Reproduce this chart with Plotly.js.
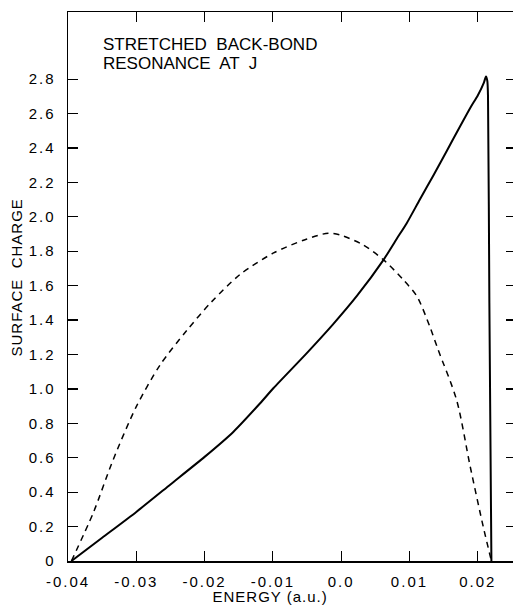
<!DOCTYPE html>
<html>
<head>
<meta charset="utf-8">
<script src="https://cdn.plot.ly/plotly-3.0.1.min.js"></script>
<style>
html,body{margin:0;padding:0;background:#fff;overflow:hidden;}
.xtick text, .ytick text { letter-spacing: 2px; }
g.annotation[data-index="2"] text, g.annotation[data-index="3"] text { letter-spacing: 1px; }
</style>
</head>
<body>
<div id="chart"></div>
<script>
// Solid curve: surface charge vs energy
const solidEnergy = [-0.0395, -0.0350, -0.0300, -0.0250, -0.0200, -0.0158, -0.0119, -0.0099, -0.0051, -0.0012, 0.0023, 0.0062, 0.0081, 0.0096, 0.0115, 0.0135, 0.0155, 0.0174, 0.0190, 0.0200, 0.0209, 0.0212, 0.0214, 0.02150, 0.0217, 0.0220];
const solidCharge = [0, 0.135, 0.285, 0.445, 0.605, 0.750, 0.915, 1.005, 1.205, 1.375, 1.540, 1.750, 1.870, 1.963, 2.099, 2.240, 2.385, 2.525, 2.640, 2.705, 2.780, 2.815, 2.790, 2.700, 1.500, 0];
// Dashed curve
const dashEnergy = [-0.0395, -0.0363, -0.0334, -0.0300, -0.0265, -0.0226, -0.0190, -0.0148, -0.0099, -0.0051, -0.0019, -0.0002, 0.0032, 0.0062, 0.0091, 0.0111, 0.0130, 0.0142, 0.0169, 0.0189, 0.0208, 0.0220];
const dashCharge = [0, 0.280, 0.587, 0.897, 1.140, 1.340, 1.505, 1.665, 1.790, 1.870, 1.905, 1.895, 1.837, 1.750, 1.634, 1.537, 1.360, 1.227, 0.936, 0.548, 0.200, 0];
// Tick labels
const xTickVals = [-0.04, -0.03, -0.02, -0.01, 0, 0.01, 0.02];
const xTickText = ["-0.04", "-0.03", "-0.02", "-0.01", "0.0", "0.01", "0.02"];
const yTickVals = [0, 0.2, 0.4, 0.6, 0.8, 1.0, 1.2, 1.4, 1.6, 1.8, 2.0, 2.2, 2.4, 2.6, 2.8];
const yTickText = ["0", "0.2", "0.4", "0.6", "0.8", "1.0", "1.2", "1.4", "1.6", "1.8", "2.0", "2.2", "2.4", "2.6", "2.8"];

const FONT = "Liberation Sans, Arial, sans-serif";

const traces = [
  {x: solidEnergy, y: solidCharge, mode: 'lines', line: {color: '#000', width: 2, shape: 'spline', smoothing: 0.6}, hoverinfo: 'skip'},
  {x: dashEnergy, y: dashCharge, mode: 'lines', line: {color: '#000', width: 1.5, dash: '6px,5px', shape: 'spline', smoothing: 0.8}, hoverinfo: 'skip'}
];

const axisCommon = {
  showline: true, linecolor: '#000', linewidth: 1.5, mirror: 'ticks',
  ticks: 'inside', ticklen: 10, tickwidth: 1.2, tickcolor: '#000',
  showgrid: false, zeroline: false,
  tickfont: {family: FONT, size: 15, color: '#000'}
};

const PH = 549, PW = 448;
const layout = {
  width: 516, height: 611,
  margin: {l: 68, r: 0, t: 12, b: 50},
  paper_bgcolor: '#fff', plot_bgcolor: '#fff',
  showlegend: false,
  xaxis: Object.assign({}, axisCommon, {
    range: [-0.04, 0.0256], tickmode: 'array', tickvals: xTickVals, ticktext: xTickText,
    ticklabelstandoff: 6
  }),
  yaxis: Object.assign({}, axisCommon, {
    range: [0, 3.19], tickmode: 'array', tickvals: yTickVals, ticktext: yTickText,
    ticklabelstandoff: 8
  }),
  annotations: [
    {xref: 'paper', yref: 'paper', x: (101 - 68) / PW, y: (561 - 44.5) / PH, xanchor: 'left', yanchor: 'middle',
     showarrow: false, text: 'STRETCHED  BACK-BOND', font: {family: FONT, size: 17, color: '#000'}},
    {xref: 'paper', yref: 'paper', x: (101 - 68) / PW, y: (561 - 63.5) / PH, xanchor: 'left', yanchor: 'middle',
     showarrow: false, text: 'RESONANCE  AT  J', font: {family: FONT, size: 17, color: '#000'}},
    {xref: 'paper', yref: 'paper', x: (270 - 68) / PW, y: -(596 - 561) / PH, xanchor: 'center', yanchor: 'middle',
     showarrow: false, text: 'ENERGY (a.u.)', font: {family: FONT, size: 15, color: '#000'}},
    {xref: 'paper', yref: 'paper', x: -(68 - 17) / PW, y: (561 - 278) / PH, xanchor: 'center', yanchor: 'middle',
     showarrow: false, textangle: -90, text: 'SURFACE  CHARGE', font: {family: FONT, size: 15, color: '#000'}}
  ]
};

Plotly.newPlot('chart', traces, layout, {displayModeBar: false, staticPlot: true});
</script>
</body>
</html>
